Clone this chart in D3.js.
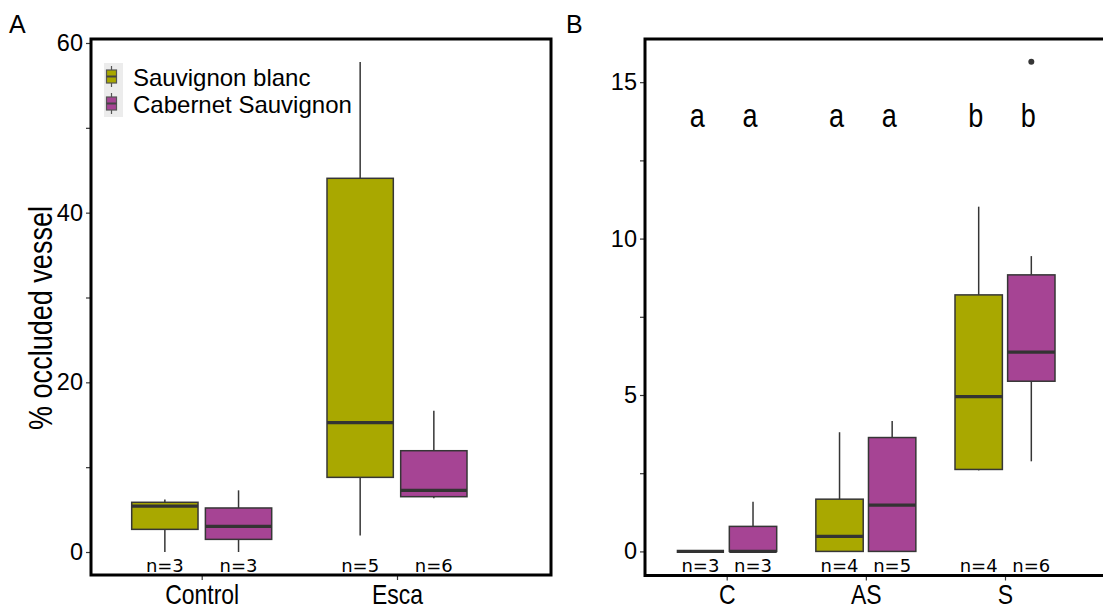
<!DOCTYPE html>
<html>
<head>
<meta charset="utf-8">
<script src="https://cdn.jsdelivr.net/npm/d3@7"></script>
<style>
  html, body { margin: 0; padding: 0; background: #fff; }
  svg { display: block; }
  text { font-family: "Liberation Sans", Arial, Helvetica, sans-serif; fill: #000; }
</style>
</head>
<body>
<svg id="chart" width="1103" height="615"></svg>
<script>
// ---- Data ------------------------------------------------------------
const cultivars = ["Sauvignon blanc", "Cabernet Sauvignon"];
const cultivarColors = ["#a9a800", "#a64494"];

// Panel A: % occluded vessels, Control vs Esca
const groupsA = ["Control", "Esca"];
// five-number summaries: [lower whisker, Q1, median, Q3, upper whisker]
const sbA = [[0, 2.67, 5.42, 5.86, 6.2], [1.96, 8.8, 15.25, 44.05, 57.76]];
const csA = [[0, 1.49, 3.03, 5.19, 7.27], [6.33, 6.52, 7.27, 11.94, 16.66]];
const nSbA = [3, 5];
const nCsA = [3, 6];
const ticksA = [0, 10, 20, 30, 40, 50, 60];
const tickLabelsA = ["0", "", "20", "", "40", "", "60"];

// Panel B: symptom classes C, AS, S
const groupsB = ["C", "AS", "S"];
const sbB = [[0, 0, 0, 0, 0], [0, 0, 0.48, 1.67, 3.81], [2.59, 2.62, 4.95, 8.2, 11.02]];
const csB = [[0, 0, 0, 0.8, 1.59], [0, 0, 1.48, 3.64, 4.17], [2.88, 5.44, 6.37, 8.84, 9.44]];
const nSbB = [3, 4, 4];
const nCsB = [3, 5, 6];
const outliersB = [{ group: "S", cultivar: 1, value: 15.65 }];
const lettersSbB = ["a", "a", "b"];
const lettersCsB = ["a", "a", "b"];
const letterLevelB = 13.57;
const ticksB = [0, 2.5, 5, 7.5, 10, 12.5, 15];
const tickLabelsB = ["0", "", "5", "", "10", "", "15"];

// ---- Drawing ---------------------------------------------------------
const svg = d3.select("#chart");
const lineCol = "#363636";
const narrow = 0.82;   // horizontal squeeze for the condensed title face

function drawPanel(cfg) {
  const g = svg.append("g");
  const { left, right, top, bottom } = cfg.frame;

  const y = d3.scaleLinear().domain(cfg.yDomain).range([bottom, top]);
  const x = d3.scalePoint().domain(cfg.groups).range(cfg.xRange);
  const dodge = d3.scaleBand().domain([0, 1]).range(cfg.dodgeRange).paddingInner(0.1);
  const bw = dodge.bandwidth();

  // y axis ticks and labels
  const yAxis = d3.axisLeft(y)
    .tickValues(cfg.ticks)
    .tickSize(5)
    .tickPadding(3)
    .tickFormat((d, i) => cfg.tickLabels[i]);
  const ya = g.append("g").attr("transform", `translate(${left},0)`).call(yAxis);
  ya.select(".domain").remove();
  ya.selectAll(".tick line").attr("stroke", lineCol).attr("stroke-width", 1.2);
  ya.selectAll(".tick text").style("font-size", "23.5px").attr("fill", "#111");

  // x axis ticks and labels
  const xAxis = d3.axisBottom(x).tickSize(5).tickPadding(4);
  const xa = g.append("g").attr("transform", `translate(0,${bottom})`).call(xAxis);
  xa.select(".domain").remove();
  xa.selectAll(".tick line").attr("stroke", lineCol).attr("stroke-width", 1.2);
  xa.selectAll(".tick text").style("font-size", "28px").attr("fill", "#111")
    .attr("transform", `scale(${narrow},1)`);

  // boxes
  const series = [cfg.sb, cfg.cs];
  series.forEach((vals, si) => {
    const bg = g.append("g");
    const items = vals.map((v, gi) => ({ v, cx: x(cfg.groups[gi]) + dodge(si) + bw / 2, x0: x(cfg.groups[gi]) + dodge(si) }));
    // whiskers
    bg.selectAll("line.wlo").data(items).join("line")
      .attr("x1", d => d.cx).attr("x2", d => d.cx)
      .attr("y1", d => y(d.v[0])).attr("y2", d => y(d.v[1]))
      .attr("stroke", lineCol).attr("stroke-width", 1.5);
    bg.selectAll("line.whi").data(items).join("line")
      .attr("x1", d => d.cx).attr("x2", d => d.cx)
      .attr("y1", d => y(d.v[3])).attr("y2", d => y(d.v[4]))
      .attr("stroke", lineCol).attr("stroke-width", 1.5);
    // box
    bg.selectAll("rect").data(items).join("rect")
      .attr("x", d => d.x0).attr("width", bw)
      .attr("y", d => y(d.v[3])).attr("height", d => y(d.v[1]) - y(d.v[3]))
      .attr("fill", cultivarColors[si])
      .attr("stroke", lineCol).attr("stroke-width", 1.5);
    // median
    bg.selectAll("line.med").data(items).join("line")
      .attr("x1", d => d.x0).attr("x2", d => d.x0 + bw)
      .attr("y1", d => y(d.v[2])).attr("y2", d => y(d.v[2]))
      .attr("stroke", "#333").attr("stroke-width", 3.2);
    // sample size labels
    const ns = si === 0 ? cfg.nSb : cfg.nCs;
    bg.selectAll("text.n").data(items).join("text")
      .attr("x", d => d.cx).attr("y", bottom - 3.5)
      .attr("text-anchor", "middle")
      .style("font-family", "'DejaVu Sans', sans-serif")
      .style("font-size", "18px").attr("fill", "#222")
      .text((d, i) => "n=" + ns[i]);
    // group letters
    if (cfg.letters) {
      bg.selectAll("text.l").data(items).join("text")
        .attr("transform", d => `translate(${d.cx - 3},${y(cfg.letterLevel)}) scale(${narrow},1)`)
        .attr("text-anchor", "middle")
        .style("font-size", "33px")
        .text((d, i) => cfg.letters[si][i]);
    }
  });

  // outliers
  if (cfg.outliers) {
    g.selectAll("circle").data(cfg.outliers).join("circle")
      .attr("cx", d => x(d.group) + dodge(d.cultivar) + bw / 2)
      .attr("cy", d => y(d.value))
      .attr("r", 3).attr("fill", lineCol);
  }

  // panel frame
  g.append("rect")
    .attr("x", left).attr("y", top)
    .attr("width", right - left).attr("height", bottom - top)
    .attr("fill", "none").attr("stroke", "#000").attr("stroke-width", 3);

  // panel tag
  svg.append("text").attr("x", cfg.tag.x).attr("y", 33)
    .style("font-size", "25px").text(cfg.tag.label);
  return { g, y, x };
}

drawPanel({
  frame: { left: 91, right: 551, top: 39, bottom: 575 },
  yDomain: [-2.71, 60.47],
  groups: groupsA,
  xRange: [201.7, 397],
  dodgeRange: [-70, 70],
  sb: sbA, cs: csA, nSb: nSbA, nCs: nCsA,
  ticks: ticksA, tickLabels: tickLabelsA,
  tag: { x: 9, label: "A" }
});

drawPanel({
  frame: { left: 645, right: 1106, top: 39, bottom: 575.5 },
  yDomain: [-0.77, 16.38],
  groups: groupsB,
  xRange: [726.7, 1005],
  dodgeRange: [-50, 50],
  sb: sbB, cs: csB, nSb: nSbB, nCs: nCsB,
  ticks: ticksB, tickLabels: tickLabelsB,
  outliers: outliersB,
  letters: [lettersSbB, lettersCsB], letterLevel: letterLevelB,
  tag: { x: 566, label: "B" }
});

// y axis title (panel A)
svg.append("text")
  .attr("transform", `translate(52,318) rotate(-90) scale(${narrow},1)`)
  .attr("text-anchor", "middle")
  .style("font-size", "33px")
  .text("% occluded vessel");

// legend
const legend = svg.append("g").attr("transform", "translate(104,63)");
const keyH = 27, keyW = 19;
legend.selectAll("g.key").data(cultivars).join("g")
  .attr("transform", (d, i) => `translate(0,${i * keyH})`)
  .each(function (d, i) {
    const k = d3.select(this);
    k.append("rect").attr("width", keyW).attr("height", keyH).attr("fill", "#ececec");
    k.append("line").attr("x1", keyW / 2 - 2).attr("x2", keyW / 2 - 2)
      .attr("y1", 3).attr("y2", keyH - 3)
      .attr("stroke", "#555").attr("stroke-width", 1.2);
    k.append("rect").attr("x", 2.5).attr("y", 7).attr("width", keyW - 9).attr("height", keyH - 14)
      .attr("fill", cultivarColors[i]).attr("stroke", "#555").attr("stroke-width", 1.2);
    k.append("line").attr("x1", 2.5).attr("x2", keyW - 6.5)
      .attr("y1", keyH / 2).attr("y2", keyH / 2)
      .attr("stroke", "#444").attr("stroke-width", 2);
    k.append("text").attr("x", 29).attr("y", keyH / 2 + 9)
      .style("font-size", "24px").text(d);
  });
</script>
</body>
</html>
